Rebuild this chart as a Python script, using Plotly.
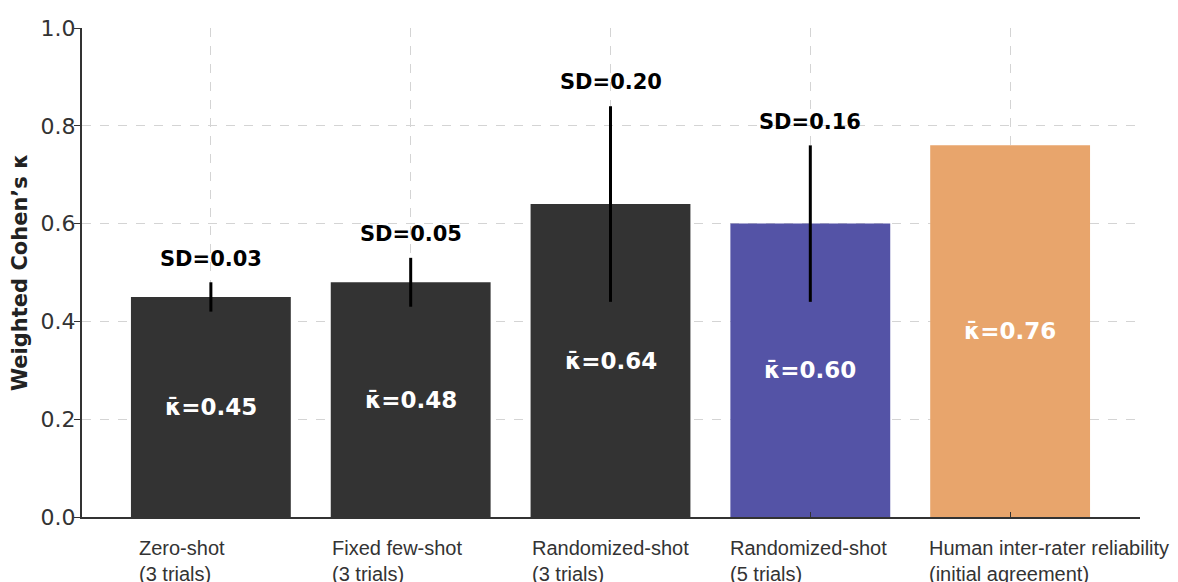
import plotly.graph_objects as go

categories = ["Zero-shot<br>(3 trials)", "Fixed few-shot<br>(3 trials)", "Randomized-shot<br>(3 trials)",
              "Randomized-shot<br>(5 trials)", "Human inter-rater reliability<br>(initial agreement)"]
means = [0.45, 0.48, 0.64, 0.60, 0.76]
sds = [0.03, 0.05, 0.20, 0.16, None]
colors = ["#333333", "#333333", "#333333", "#5453A6", "#E8A56C"]
yticks = [0.0, 0.2, 0.4, 0.6, 0.8, 1.0]
label_nudge_px = [6, -1, -1, -2, -3]

xs = list(range(len(categories)))

fig = go.Figure()
fig.add_trace(go.Bar(
    x=xs, y=means, width=0.8,
    marker=dict(color=colors, line=dict(width=0)),
    error_y=dict(type="data", array=[s if s is not None else 0 for s in sds],
                 visible=True, color="black", thickness=3, width=0),
    showlegend=False, hoverinfo="skip",
))

annotations = []
for x, m, s in zip(xs, means, sds):
    annotations.append(dict(x=x, y=m / 2, text="<b>κ̄=%.2f</b>" % m, showarrow=False,
                            font=dict(family="DejaVu Sans", size=23, color="white"),
                            xanchor="center", yanchor="middle"))
    if s is not None:
        annotations.append(dict(x=x, y=m + s + 0.02, text="<b>SD=%.2f</b>" % s, showarrow=False,
                                font=dict(family="DejaVu Sans", size=21, color="black"),
                                xanchor="center", yanchor="bottom"))
for x, c, n in zip(xs, categories, label_nudge_px):
    annotations.append(dict(x=x - 0.4, y=0, yref="y", text=c, showarrow=False, align="left",
                            xanchor="left", yanchor="top", yshift=-18, xshift=n,
                            font=dict(family="Liberation Sans, Arial", size=20, color="#333333")))

fig.update_layout(
    width=1170, height=574,
    margin=dict(l=74, r=38, t=20, b=65, autoexpand=False),
    plot_bgcolor="white", paper_bgcolor="white",
    annotations=annotations,
    xaxis=dict(range=[-0.645, 4.65], tickvals=xs, ticktext=[""] * len(xs),
               showgrid=True, gridcolor="#d4d4d4", griddash="dash", gridwidth=1,
               showline=True, linecolor="#333333", linewidth=2,
               ticks="inside", ticklen=5, tickcolor="#333333", zeroline=False,
               layer="above traces", automargin=False),
    yaxis=dict(range=[0, 1.0], tickvals=yticks, ticktext=["%.1f" % v for v in yticks],
               showgrid=True, gridcolor="#d4d4d4", griddash="dash", gridwidth=1,
               showline=True, linecolor="#333333", linewidth=2,
               ticks="outside", ticklen=6, tickcolor="#333333", zeroline=False,
               ticklabelstandoff=-6,
               tickfont=dict(family="DejaVu Sans", size=22, color="#333333"),
               title=dict(text="<b>Weighted Cohen’s κ</b>", standoff=8,
                          font=dict(family="DejaVu Sans", size=21, color="#222222")),
               layer="above traces", automargin=False),
)

fig.write_html("out.html")
